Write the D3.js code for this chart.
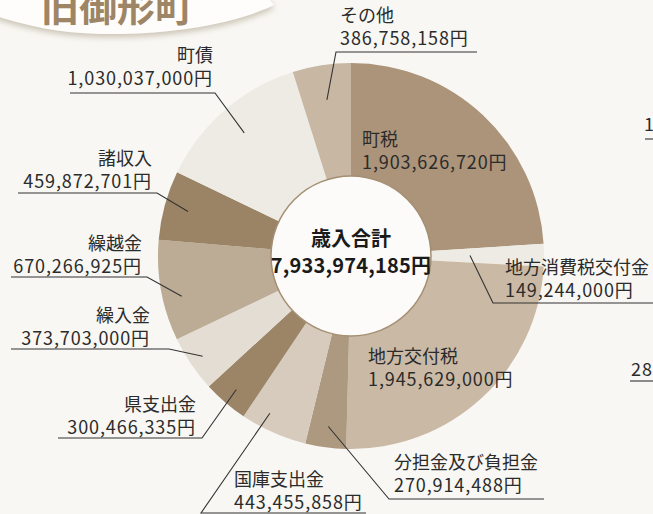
<!DOCTYPE html>
<html>
<head>
<meta charset="utf-8">
<script src="https://cdn.jsdelivr.net/npm/d3@7"></script>
<style>
  html, body { margin: 0; padding: 0; background: #f8f7f3; }
  svg { display: block; }
  text { font-family: "Noto Sans CJK JP", "Noto Sans", sans-serif; }
</style>
</head>
<body>
<svg width="653" height="514"></svg>
<script>
// revenue items, clockwise from 12 o'clock
const categories = ["町税", "地方消費税交付金", "地方交付税", "分担金及び負担金", "国庫支出金",
  "県支出金", "繰入金", "繰越金", "諸収入", "町債", "その他"];
const values = [1903626720, 149244000, 1945629000, 270914488, 443455858,
  300466335, 373703000, 670266925, 459872701, 1030037000, 386758158];
const colors = ["#ab9479", "#eeebe4", "#cab9a5", "#ad997f", "#d7cbbd",
  "#9c8567", "#e4ddd3", "#bcab95", "#9b8466", "#eeebe5", "#c7b7a3"];
const totalLabel = "歳入合計";
const title = "旧御形町";

const svg = d3.select("svg");
const cx = 351, cy = 256;
const rInner = 80, rOuter = 193;

// title banner (top-left)
const defs = svg.append("defs");
const f = defs.append("filter").attr("id", "shadow")
  .attr("x", "-10%").attr("y", "-50%").attr("width", "120%").attr("height", "200%");
f.append("feDropShadow").attr("dx", 0).attr("dy", 3).attr("stdDeviation", 3)
  .attr("flood-color", "#bfb3a2").attr("flood-opacity", 0.8);

svg.append("path")
  .attr("d", "M-10,-10 L262,-10 L274,5 C235,24 170,35 100,34 C60,33 25,26 -10,14 Z")
  .attr("fill", "#fefdfb")
  .attr("filter", "url(#shadow)");
svg.append("text")
  .attr("x", 41).attr("y", 21)
  .attr("font-size", 38).attr("font-weight", "bold")
  .attr("fill", "#9d8566")
  .text(title);

// donut
const pie = d3.pie().sort(null).value(d => d)(values);
const arc = d3.arc().innerRadius(rInner).outerRadius(rOuter);
const g = svg.append("g").attr("transform", `translate(${cx},${cy})`);

g.selectAll("path.slice")
  .data(pie)
  .join("path")
  .attr("class", "slice")
  .attr("d", arc)
  .attr("fill", (d, i) => colors[i]);

g.append("circle")
  .attr("r", rInner)
  .attr("fill", "#fcfbf9")
  .attr("stroke", "#a48e72")
  .attr("stroke-width", 1.5);

const fmt = d3.format(",");
const total = d3.sum(values);

g.append("text").attr("text-anchor", "middle").attr("y", -10)
  .attr("font-size", 20).attr("font-weight", "bold").attr("fill", "#1a1a1a")
  .text(totalLabel);
g.append("text").attr("text-anchor", "middle").attr("y", 17)
  .attr("font-size", 20).attr("font-weight", "bold").attr("fill", "#1a1a1a")
  .attr("letter-spacing", 0.2)
  .text(fmt(total) + "円");

// label layout: index into categories, anchor, text x, name baseline,
// underline y and span, elbow end of the underline ("l" or "r")
const layout = [
  { i: 0, anchor: "start", x: 362, y: 146, inside: true },
  { i: 1, anchor: "start", x: 505, y: 274, lineY: 303, lx1: 493, lx2: 653, elbow: "l", r: 119 },
  { i: 2, anchor: "start", x: 368, y: 363, inside: true },
  { i: 3, anchor: "start", x: 394, y: 469, lineY: 499, lx1: 389, lx2: 544, elbow: "l", r: 172 },
  { i: 4, anchor: "start", x: 234, y: 486, lineY: 513, lx1: 201, lx2: 366, elbow: "l", r: 177, da: 3.5 },
  { i: 5, anchor: "end", x: 196, y: 411, lineY: 438, lx1: 58, lx2: 202, elbow: "r", r: 176 },
  { i: 6, anchor: "end", x: 150, y: 322, lineY: 349, lx1: 11, lx2: 169, elbow: "r", r: 179 },
  { i: 7, anchor: "end", x: 142, y: 250, lineY: 277, lx1: 11, lx2: 147, elbow: "r", r: 174, da: -3 },
  { i: 8, anchor: "end", x: 152, y: 165, lineY: 193, lx1: 18, lx2: 157, elbow: "r", r: 169 },
  { i: 9, anchor: "end", x: 213, y: 62, lineY: 93, lx1: 70, lx2: 215, elbow: "r", r: 163 },
  { i: 10, anchor: "start", x: 340, y: 22, lineY: 52, lx1: 336, lx2: 477, elbow: "l", r: 158 }
];

const labels = svg.append("g").attr("fill", "#2b2b2b");

layout.forEach(L => {
  const d = pie[L.i];
  labels.append("text")
    .attr("x", L.x).attr("y", L.y)
    .attr("text-anchor", L.anchor)
    .attr("font-size", 18)
    .text(categories[L.i]);
  labels.append("text")
    .attr("x", L.x).attr("y", L.y + 23)
    .attr("text-anchor", L.anchor)
    .attr("font-size", 18)
    .attr("letter-spacing", 0.9)
    .text(fmt(values[L.i]) + "円");
  if (L.inside) return;
  const mid = (d.startAngle + d.endAngle) / 2 + (L.da || 0) * Math.PI / 180;
  const px = cx + L.r * Math.sin(mid), py = cy - L.r * Math.cos(mid);
  const ex = L.elbow === "l" ? L.lx1 : L.lx2;
  const fx = L.elbow === "l" ? L.lx2 : L.lx1;
  svg.append("polyline")
    .attr("points", `${px},${py} ${ex},${L.lineY} ${fx},${L.lineY}`)
    .attr("fill", "none")
    .attr("stroke", "#333")
    .attr("stroke-width", 1.1);
});

// pieces of the neighbouring chart cut by the right edge
svg.append("text").attr("x", 644).attr("y", 131).attr("font-size", 18)
  .attr("fill", "#2b2b2b").text("1");
svg.append("line").attr("x1", 645).attr("x2", 653).attr("y1", 139).attr("y2", 139)
  .attr("stroke", "#333").attr("stroke-width", 1.1);
svg.append("text").attr("x", 631).attr("y", 376).attr("font-size", 18)
  .attr("fill", "#2b2b2b").attr("letter-spacing", 0.9).text("28");
svg.append("line").attr("x1", 630).attr("x2", 653).attr("y1", 381).attr("y2", 381)
  .attr("stroke", "#333").attr("stroke-width", 1.1);
</script>
</body>
</html>
